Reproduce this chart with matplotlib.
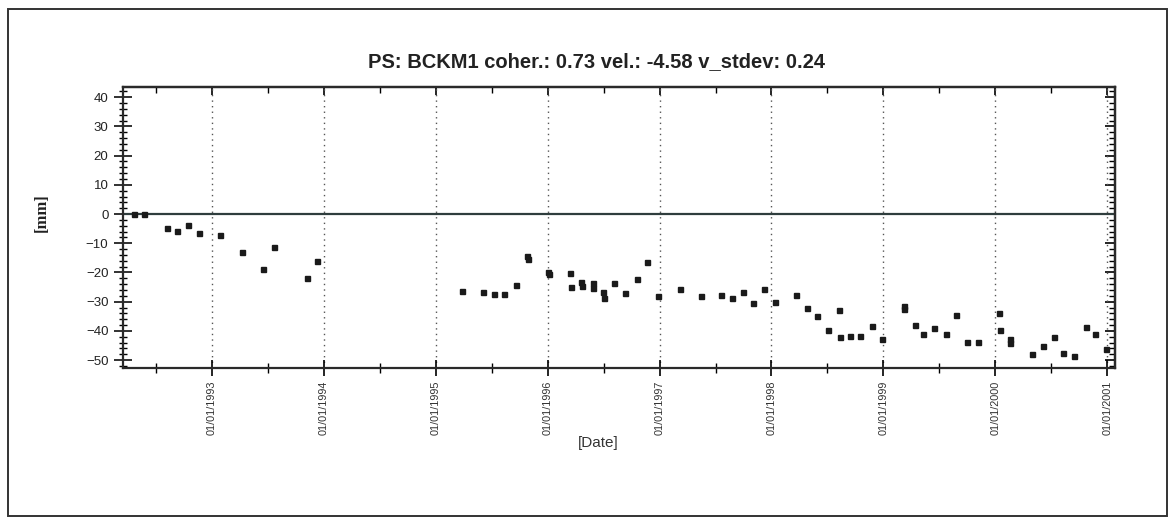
import numpy as np
import matplotlib.pyplot as plt
from matplotlib.patches import Rectangle
from matplotlib.ticker import MultipleLocator, FixedLocator, NullFormatter

# acquisition dates as decimal years, displacement in mm
dec_year = [1992.306, 1992.395, 1992.595, 1992.685, 1992.783, 1992.881, 1993.071,
            1993.271, 1993.458, 1993.557, 1993.846, 1993.936,
            1995.231, 1995.424, 1995.523, 1995.612, 1995.717, 1995.818, 1995.821,
            1996.005, 1996.008, 1996.199, 1996.211, 1996.300, 1996.303, 1996.402,
            1996.404, 1996.491, 1996.506, 1996.593, 1996.691, 1996.795, 1996.885,
            1996.983, 1997.185, 1997.370, 1997.553, 1997.651, 1997.750, 1997.839,
            1997.937, 1998.036, 1998.223, 1998.319, 1998.405, 1998.505, 1998.606,
            1998.608, 1998.701, 1998.794, 1998.894, 1998.990, 1999.182, 1999.185,
            1999.279, 1999.357, 1999.455, 1999.557, 1999.649, 1999.750, 1999.848,
            2000.036, 2000.038, 2000.131, 2000.134, 2000.325, 2000.424, 2000.522,
            2000.608, 2000.706, 2000.808, 2000.894, 2000.992]
disp_mm = [0.0, 0.0, -4.8, -5.8, -3.9, -6.4, -7.3,
           -13.1, -18.9, -11.3, -21.9, -16.0,
           -26.3, -26.8, -27.3, -27.3, -24.4, -14.4, -15.3,
           -19.9, -20.5, -20.1, -25.0, -23.3, -24.7, -23.5,
           -25.4, -26.8, -28.9, -23.6, -27.0, -22.2, -16.4,
           -28.0, -25.6, -28.1, -27.6, -28.6, -26.6, -30.5,
           -25.7, -30.1, -27.7, -32.0, -34.9, -39.8, -33.0,
           -42.2, -41.7, -41.7, -38.4, -42.7, -31.6, -32.6,
           -38.0, -40.9, -38.9, -40.9, -34.6, -43.7, -43.7,
           -33.7, -39.8, -42.9, -44.3, -48.0, -45.1, -42.2,
           -47.5, -48.5, -38.5, -41.2, -46.1]

years = [1993, 1994, 1995, 1996, 1997, 1998, 1999, 2000, 2001]
half_years = [1992.5, 1993.5, 1994.5, 1995.5, 1996.5, 1997.5, 1998.5, 1999.5, 2000.5]
year_labels = ['01/01/%d' % y for y in years]
y_ticks = [40, 30, 20, 10, 0, -10, -20, -30, -40, -50]

title = 'PS: BCKM1 coher.: 0.73 vel.: -4.58 v_stdev: 0.24'

W, H = 1176, 526
fig = plt.figure(figsize=(W / 100, H / 100), dpi=100)
plt.rcParams['font.family'] = ['Liberation Sans', 'DejaVu Sans']

# outer frame
fig.patches.append(Rectangle((8 / W, 1 - 516 / H), 1159 / W, 507 / H,
                             transform=fig.transFigure, fill=False,
                             edgecolor='#333333', linewidth=1.4))

ax = fig.add_axes([123 / W, 1 - 368 / H, (1115 - 123) / W, (368 - 87) / H])
ax.set_xlim(1992.205, 2001.07)
ax.set_ylim(-52.7, 43.5)

# year grid lines and zero line
for y in years:
    ax.axvline(y, color='#555555', linestyle=(0, (1, 3)), linewidth=1.0, zorder=1)
ax.axhline(0, color='#2f3d3d', linewidth=1.6, zorder=2)

ax.plot(dec_year, disp_mm, linestyle='none', marker='s', markersize=3.6,
        color='#1a1a1a', zorder=3)

for s in ax.spines.values():
    s.set_linewidth(1.6)
    s.set_color('#2a2a2a')

ax.xaxis.set_major_locator(FixedLocator(years))
ax.xaxis.set_minor_locator(FixedLocator(half_years))
ax.set_xticklabels(year_labels, rotation=90, fontsize=7.8, color='#333333')
ax.yaxis.set_major_locator(FixedLocator(y_ticks))
ax.yaxis.set_minor_locator(MultipleLocator(2))
ax.tick_params(axis='y', labelsize=9.5, colors='#222222')

ax.tick_params(axis='x', which='major', direction='inout', length=12, width=1.2, pad=3)
ax.tick_params(axis='x', which='minor', direction='inout', length=7, width=1.0)
ax.tick_params(axis='y', which='major', direction='inout', length=13, width=1.3, pad=4)
ax.tick_params(axis='y', which='minor', direction='inout', length=6, width=1.0)

# top and right ticks point inward only
top = ax.secondary_xaxis('top')
top.xaxis.set_major_locator(FixedLocator(years))
top.xaxis.set_minor_locator(FixedLocator(half_years))
top.xaxis.set_major_formatter(NullFormatter())
top.tick_params(which='major', direction='in', length=6, width=1.2)
top.tick_params(which='minor', direction='in', length=4, width=1.0)
top.spines['top'].set_linewidth(1.6)

right = ax.secondary_yaxis('right')
right.yaxis.set_major_locator(FixedLocator(y_ticks))
right.yaxis.set_minor_locator(MultipleLocator(2))
right.yaxis.set_major_formatter(NullFormatter())
right.tick_params(which='major', direction='in', length=7, width=1.2)
right.tick_params(which='minor', direction='in', length=4, width=1.0)
right.spines['right'].set_linewidth(1.6)

fig.text(596 / W, 1 - 62 / H, title, ha='center', va='center',
         fontsize=14.5, fontweight='bold', color='#222222')
fig.text(42 / W, 1 - 213 / H, '[mm]', rotation=90, ha='center', va='center',
         fontsize=12, fontweight='bold', family=['Liberation Serif', 'DejaVu Serif'],
         color='#222222')
fig.text(598 / W, 1 - 443 / H, '[Date]', ha='center', va='center',
         fontsize=11, color='#333333')

fig.savefig('out.png', dpi=100)
